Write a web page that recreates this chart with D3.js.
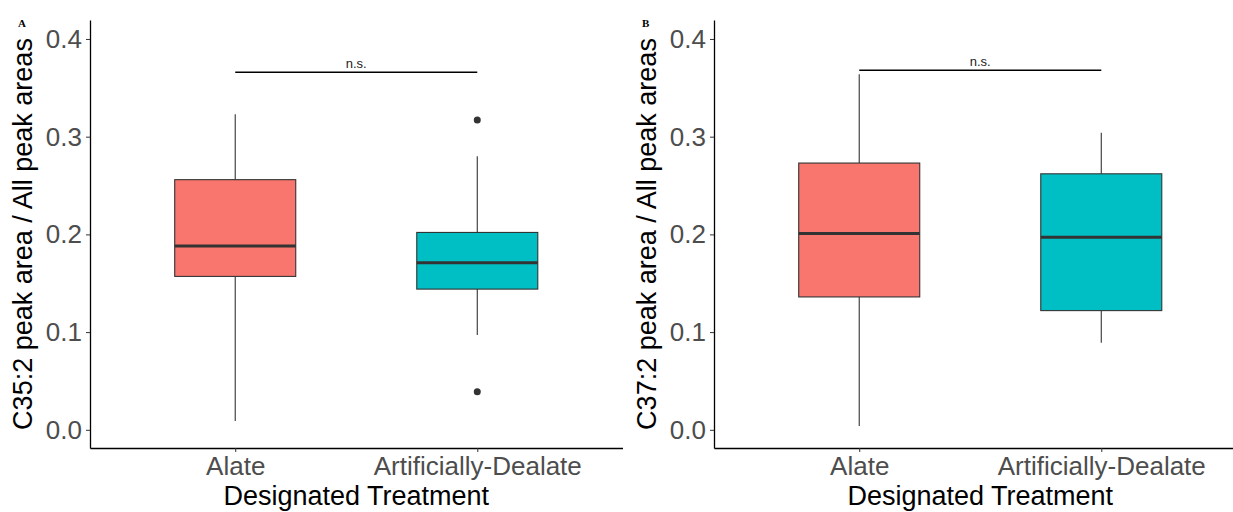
<!DOCTYPE html>
<html lang="en">
<head>
    <meta charset="UTF-8">
    <script type="text/javascript" src="https://d3js.org/d3.v7.min.js"></script>
    <title>Peak area boxplots</title>
    <style>
        body { margin: 0; background: #fff; }
    </style>
</head>
<body>
    <svg id="plot"></svg>
    <script>
        const width = 1233;
        const height = 512;

        const categories = ["Alate", "Artificially-Dealate"];
        const yTicks = [0.0, 0.1, 0.2, 0.3, 0.4];
        const fills = ["#F8766D", "#00BFC4"];

        // panel A: C35:2
        const c35Low = [0.009, 0.097];
        const c35Q1 = [0.157, 0.144];
        const c35Median = [0.188, 0.171];
        const c35Q3 = [0.256, 0.202];
        const c35High = [0.323, 0.280];
        const c35Outliers = [[], [0.317, 0.039]];

        // panel B: C37:2
        const c37Low = [0.004, 0.089];
        const c37Q1 = [0.136, 0.122];
        const c37Median = [0.201, 0.197];
        const c37Q3 = [0.273, 0.262];
        const c37High = [0.364, 0.304];
        const c37Outliers = [[], []];

        const bracketValues = [0.366, 0.368];
        const bracketLabel = "n.s.";

        const sans = "'Liberation Sans', Arial, sans-serif";
        const serif = "'Liberation Serif', 'Times New Roman', serif";

        const svg = d3.select("#plot").attr("width", width).attr("height", height);

        const y = d3.scaleLinear()
            .domain([-0.0186, 0.4194])
            .range([448, 20]);

        function panel(opts) {
            const x = d3.scalePoint()
                .domain(categories)
                .range([opts.left, opts.left + 532.5])
                .padding(0.6);
            const bw = x.step() * 0.5;
            const g = svg.append("g").style("font-family", sans);

            // significance bracket
            const by = y(opts.bracket);
            g.append("line")
                .attr("x1", x(categories[0])).attr("x2", x(categories[1]))
                .attr("y1", by).attr("y2", by)
                .attr("stroke", "#000").attr("stroke-width", 1.5);
            g.append("text")
                .attr("x", (x(categories[0]) + x(categories[1])) / 2)
                .attr("y", by - 4)
                .attr("text-anchor", "middle")
                .attr("font-size", 13)
                .attr("fill", "#222")
                .text(bracketLabel);

            categories.forEach((c, i) => {
                const cx = x(c);
                // whiskers
                g.append("line")
                    .attr("x1", cx).attr("x2", cx)
                    .attr("y1", y(opts.high[i])).attr("y2", y(opts.q3[i]))
                    .attr("stroke", "#333").attr("stroke-width", 1.1);
                g.append("line")
                    .attr("x1", cx).attr("x2", cx)
                    .attr("y1", y(opts.q1[i])).attr("y2", y(opts.low[i]))
                    .attr("stroke", "#333").attr("stroke-width", 1.1);
                // box
                g.append("rect")
                    .attr("x", cx - bw / 2).attr("width", bw)
                    .attr("y", y(opts.q3[i]))
                    .attr("height", y(opts.q1[i]) - y(opts.q3[i]))
                    .attr("fill", fills[i])
                    .attr("stroke", "#333").attr("stroke-width", 1.1);
                g.append("line")
                    .attr("x1", cx - bw / 2).attr("x2", cx + bw / 2)
                    .attr("y1", y(opts.median[i])).attr("y2", y(opts.median[i]))
                    .attr("stroke", "#333").attr("stroke-width", 3);
                g.selectAll(null)
                    .data(opts.outliers[i])
                    .join("circle")
                    .attr("cx", cx).attr("cy", d => y(d))
                    .attr("r", 3.5)
                    .attr("fill", "#333");
            });

            // axes
            const yAxis = g.append("g")
                .attr("transform", `translate(${opts.left},0)`)
                .call(d3.axisLeft(y).tickValues(yTicks).tickFormat(d3.format(".1f"))
                    .tickSize(4).tickSizeOuter(0).tickPadding(4));
            const xAxis = g.append("g")
                .attr("transform", `translate(0,448)`)
                .call(d3.axisBottom(x).tickSize(4).tickSizeOuter(0).tickPadding(4.5));
            [yAxis, xAxis].forEach(a => {
                a.select(".domain").attr("stroke", "#000").attr("stroke-width", 1.3);
                a.selectAll(".tick line").attr("stroke", "#333");
                a.selectAll(".tick text")
                    .attr("font-size", 26)
                    .style("font-family", sans)
                    .attr("fill", "#4D4D4D");
            });

            // titles
            g.append("text")
                .attr("transform", `translate(${opts.left - 58},234) rotate(-90)`)
                .attr("text-anchor", "middle")
                .attr("font-size", 27)
                .attr("fill", "#000")
                .text(opts.title);
            g.append("text")
                .attr("x", (x(categories[0]) + x(categories[1])) / 2)
                .attr("y", 505)
                .attr("text-anchor", "middle")
                .attr("font-size", 27)
                .attr("fill", "#000")
                .text("Designated Treatment");
            g.append("text")
                .attr("x", opts.left - 72)
                .attr("y", 27)
                .style("font-family", serif)
                .attr("font-weight", "bold")
                .attr("font-size", 11)
                .attr("fill", "#000")
                .text(opts.tag);
        }

        panel({
            left: 90, title: "C35:2 peak area / All peak areas", tag: "A",
            low: c35Low, q1: c35Q1, median: c35Median, q3: c35Q3, high: c35High,
            outliers: c35Outliers, bracket: bracketValues[0]
        });
        panel({
            left: 714, title: "C37:2 peak area / All peak areas", tag: "B",
            low: c37Low, q1: c37Q1, median: c37Median, q3: c37Q3, high: c37High,
            outliers: c37Outliers, bracket: bracketValues[1]
        });
    </script>
</body>
</html>
